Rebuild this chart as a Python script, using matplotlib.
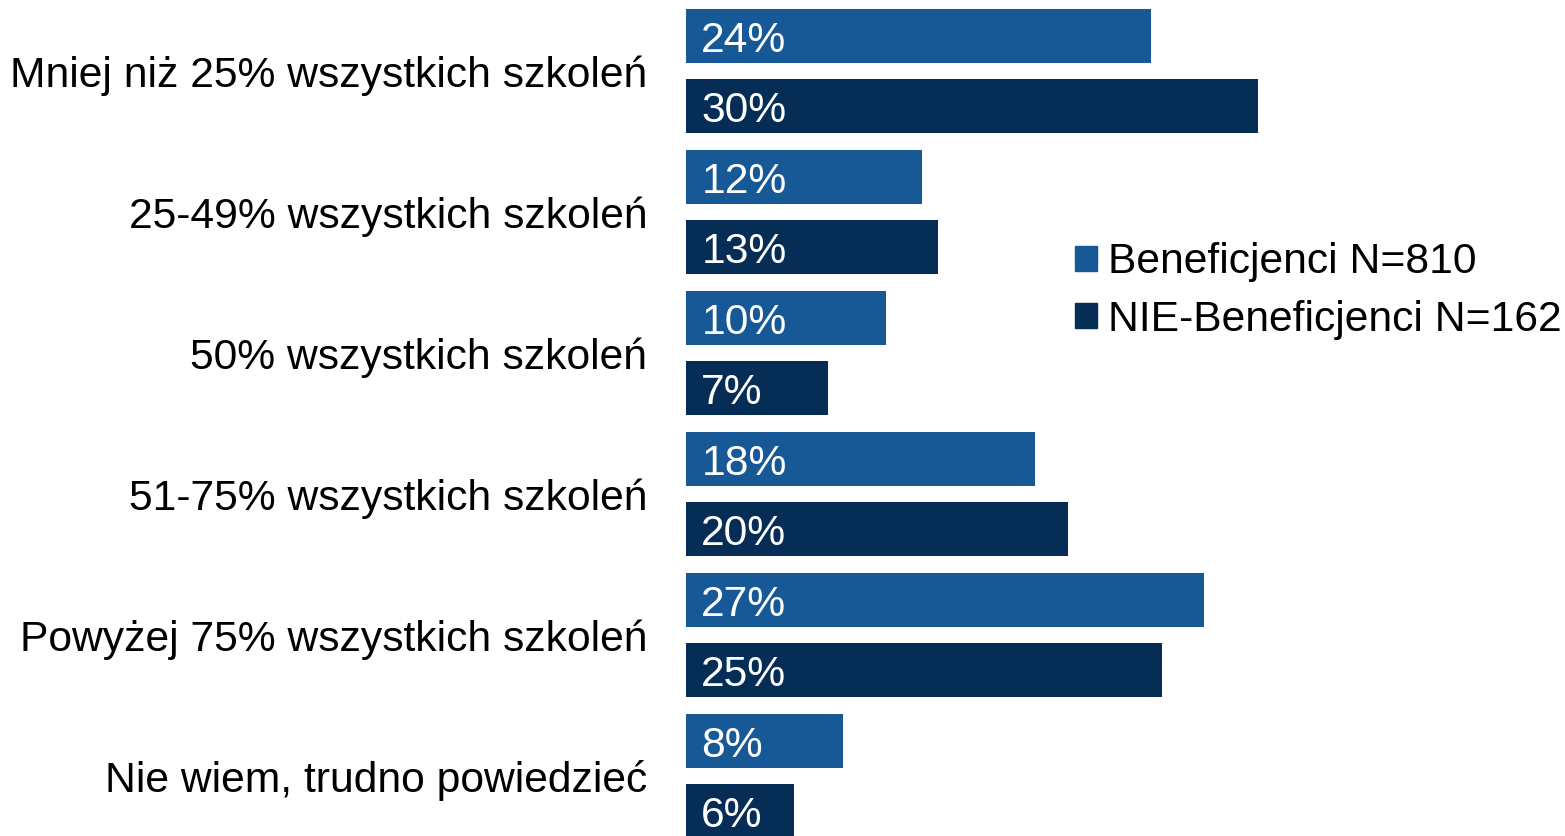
import matplotlib.pyplot as plt
from matplotlib.patches import Patch
import numpy as np

plt.rcParams['font.family'] = ['Liberation Sans', 'DejaVu Sans']

categories = ['Mniej niż 25% wszystkich szkoleń', '25-49% wszystkich szkoleń',
              '50% wszystkich szkoleń', '51-75% wszystkich szkoleń',
              'Powyżej 75% wszystkich szkoleń', 'Nie wiem, trudno powiedzieć']
series_names = ['Beneficjenci N=810', 'NIE-Beneficjenci N=162']
beneficjenci = [24.2, 12.3, 10.4, 18.2, 27.0, 8.2]
nie_beneficjenci = [29.8, 13.1, 7.4, 19.9, 24.8, 5.6]
colors = ['#175996', '#052D56']

fs = 30.7
fig = plt.figure(figsize=(15.65, 8.36), dpi=100)
ax = fig.add_axes([686 / 1565, 0, 879 / 1565, 1])

y = np.arange(len(categories))
off = 35 / 141
h = 54 / 141
for vals, dy, col in [(beneficjenci, -off, colors[0]), (nie_beneficjenci, off, colors[1])]:
    bars = ax.barh(y + dy, vals, height=h, color=col)
    for b, v in zip(bars, vals):
        ax.annotate(f'{round(v)}%', (0, b.get_y() + b.get_height() / 2),
                    xytext=(11, -11.5), textcoords='offset points',
                    ha='left', va='baseline', color='white', fontsize=fs)

ax.set_xlim(0, 879 / 19.2)
ax.set_ylim((836 - 71) / 141, -71 / 141)
ax.set_yticks(y)
ax.set_yticklabels(categories, fontsize=fs)
ax.tick_params(axis='y', length=0, pad=28)
ax.set_xticks([])
for s in ax.spines.values():
    s.set_visible(False)

handles = [Patch(color=c) for c in colors]
fig.legend(handles, series_names, loc='center left', bbox_to_anchor=(1075 / 1565, 1 - 291 / 836),
           frameon=False, fontsize=fs, handlelength=0.515, handleheight=0.515,
           handletextpad=0.26, labelspacing=0.4, borderpad=0, borderaxespad=0)

fig.savefig('out.png', dpi=100)
plt.close(fig)
